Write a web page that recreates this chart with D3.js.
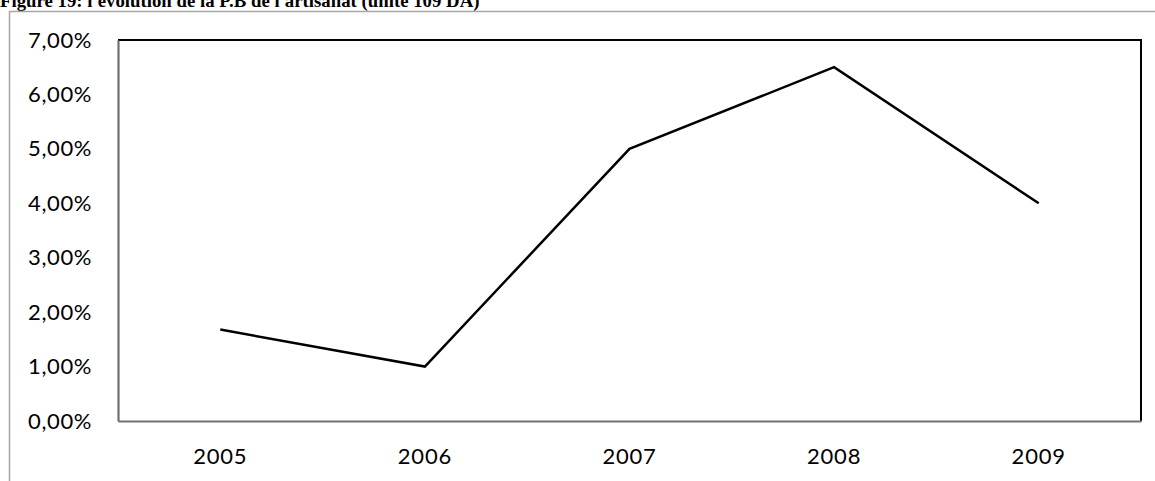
<!DOCTYPE html>
<html>
<head>
<meta charset="utf-8">
<script src="https://cdn.jsdelivr.net/npm/d3@7"></script>
<style>
  html, body { margin: 0; padding: 0; background: #fff; }
  svg { display: block; }
</style>
</head>
<body>
<script>
// Production brute de l'artisanat, taux annuel
const years = ["2005", "2006", "2007", "2008", "2009"];
const values = [0.0168, 0.010, 0.050, 0.065, 0.040];
const yTicks = [0, 0.01, 0.02, 0.03, 0.04, 0.05, 0.06, 0.07];
const title = "Figure 19: l'évolution de la P.B de l'artisanat (unité 109 DA)";

const W = 1155, H = 481;
const plot = { left: 118, right: 1141, top: 40, bottom: 421 };

const svg = d3.select("body").append("svg")
  .attr("width", W).attr("height", H);

// Title (partly above the page edge)
svg.append("text")
  .attr("x", 0).attr("y", 7)
  .attr("font-family", "'Liberation Serif', 'Times New Roman', serif")
  .attr("font-weight", "bold")
  .attr("font-size", 18.8)
  .attr("fill", "#000")
  .text(title);

// Chart frame
svg.append("path")
  .attr("d", `M9.5,${H} V11.5 H${W}`)
  .attr("fill", "none")
  .attr("stroke", "#a6a6a6")
  .attr("stroke-width", 1.5);

const x = d3.scaleBand().domain(years).range([plot.left, plot.right]);
const y = d3.scaleLinear().domain([0, 0.07]).range([plot.bottom, plot.top]);

const fmt = v => d3.format(".2f")(v * 100).replace(".", ",") + "%";

// Plot area border: top and right in black
svg.append("path")
  .attr("d", `M${plot.left},${plot.top} H${plot.right} V${plot.bottom}`)
  .attr("fill", "none")
  .attr("stroke", "#000")
  .attr("stroke-width", 2);

const labelFont = "Lato, 'Open Sans', sans-serif";

// Y axis
const yAxis = svg.append("g")
  .attr("transform", `translate(${plot.left},0)`)
  .call(d3.axisLeft(y).tickValues(yTicks).tickFormat(fmt).tickSize(0).tickPadding(26));
yAxis.select(".domain").attr("stroke", "#707070").attr("stroke-width", 2.2);
yAxis.selectAll("text")
  .attr("font-family", labelFont)
  .attr("font-size", 22)
  .attr("letter-spacing", 0.6)
  .attr("fill", "#000");

// X axis
const xAxis = svg.append("g")
  .attr("transform", `translate(0,${plot.bottom})`)
  .call(d3.axisBottom(x).tickSize(0).tickPadding(27));
xAxis.select(".domain").attr("stroke", "#707070").attr("stroke-width", 2.2);
xAxis.selectAll("text")
  .attr("font-family", labelFont)
  .attr("font-size", 22)
  .attr("letter-spacing", 0.8)
  .attr("fill", "#000");

// Series line
const line = d3.line()
  .x((d, i) => x(years[i]) + x.bandwidth() / 2)
  .y(d => y(d));

svg.append("path")
  .datum(values)
  .attr("d", line)
  .attr("fill", "none")
  .attr("stroke", "#000")
  .attr("stroke-width", 2.5)
  .attr("stroke-linejoin", "miter");
</script>
</body>
</html>
